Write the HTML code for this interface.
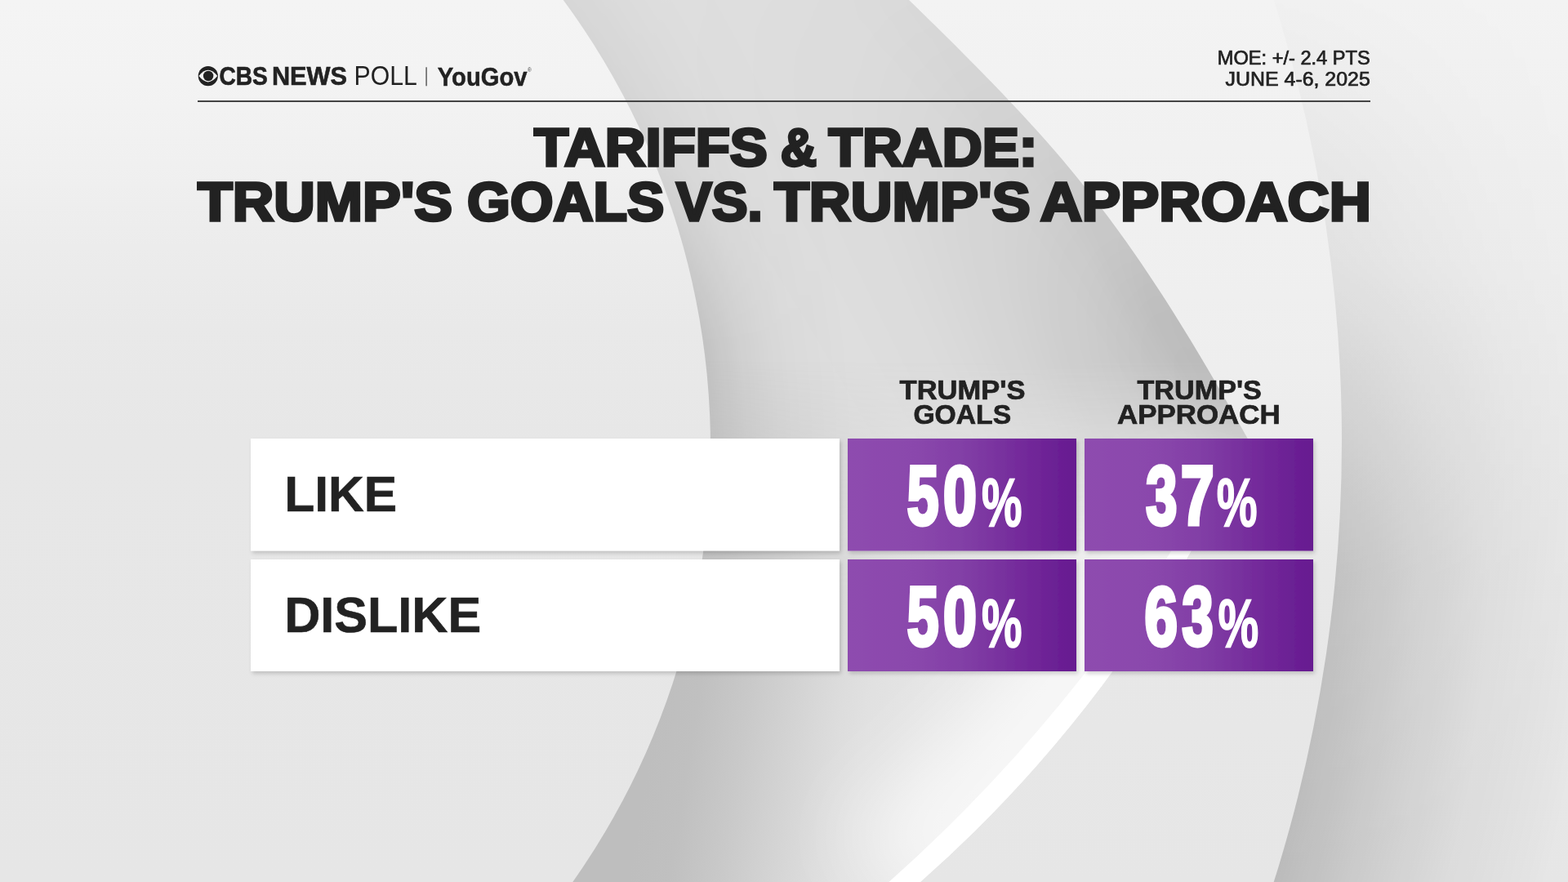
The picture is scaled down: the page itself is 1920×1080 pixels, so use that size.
<!DOCTYPE html>
<html>
<head>
<meta charset="utf-8">
<style>
html,body{margin:0;padding:0;width:1920px;height:1080px;overflow:hidden;background:#eaeaea;}
svg{position:absolute;left:0;top:0;display:block;}
text{font-family:"Liberation Sans",Arial,sans-serif;}
</style>
</head>
<body>
<svg width="1920" height="1080" viewBox="0 0 1920 1080">
<defs>
  <linearGradient id="gBase" gradientUnits="userSpaceOnUse" x1="0" y1="0" x2="0" y2="1080">
    <stop offset="0" stop-color="#f4f4f4"/>
    <stop offset="0.09" stop-color="#f3f3f3"/>
    <stop offset="0.185" stop-color="#f0f0f0"/>
    <stop offset="0.28" stop-color="#ececec"/>
    <stop offset="0.37" stop-color="#e9e9e9"/>
    <stop offset="0.5" stop-color="#e7e7e7"/>
    <stop offset="1" stop-color="#e6e6e6"/>
  </linearGradient>
  <linearGradient id="gRightBase" gradientUnits="userSpaceOnUse" x1="0" y1="0" x2="0" y2="1080">
    <stop offset="0" stop-color="#f3f3f3"/>
    <stop offset="0.5" stop-color="#ebebeb"/>
    <stop offset="1" stop-color="#e6e6e6"/>
  </linearGradient>
  <radialGradient id="gCShadow" gradientUnits="userSpaceOnUse" cx="-149" cy="540" r="2112">
    <stop offset="0.8485" stop-color="#000" stop-opacity="0.185"/>
    <stop offset="0.872" stop-color="#000" stop-opacity="0.15"/>
    <stop offset="0.8958" stop-color="#000" stop-opacity="0.11"/>
    <stop offset="0.9432" stop-color="#000" stop-opacity="0.045"/>
    <stop offset="0.99" stop-color="#000" stop-opacity="0.01"/>
    <stop offset="1" stop-color="#000" stop-opacity="0"/>
  </radialGradient>
  <linearGradient id="gVMask" gradientUnits="userSpaceOnUse" x1="0" y1="0" x2="0" y2="1080">
    <stop offset="0" stop-color="#fff" stop-opacity="0.05"/>
    <stop offset="0.3" stop-color="#fff" stop-opacity="0.28"/>
    <stop offset="0.65" stop-color="#fff" stop-opacity="0.9"/>
    <stop offset="1" stop-color="#fff" stop-opacity="1"/>
  </linearGradient>
  <mask id="mV" maskUnits="userSpaceOnUse" x="0" y="0" width="1920" height="1080">
    <rect x="0" y="0" width="1920" height="1080" fill="url(#gVMask)"/>
  </mask>
  <linearGradient id="gLens" gradientUnits="userSpaceOnUse" x1="0" y1="0" x2="0" y2="1080">
    <stop offset="0" stop-color="#f3f3f3"/>
    <stop offset="0.42" stop-color="#eeeeee"/>
    <stop offset="0.65" stop-color="#e8e8e8"/>
    <stop offset="1" stop-color="#e6e6e6"/>
  </linearGradient>
  <radialGradient id="gAShadow" gradientUnits="userSpaceOnUse" cx="-53" cy="548" r="1100">
    <stop offset="0.837" stop-color="#000" stop-opacity="0.13"/>
    <stop offset="0.855" stop-color="#000" stop-opacity="0.10"/>
    <stop offset="0.882" stop-color="#000" stop-opacity="0.06"/>
    <stop offset="0.93" stop-color="#000" stop-opacity="0.02"/>
    <stop offset="1" stop-color="#000" stop-opacity="0"/>
  </radialGradient>
  <linearGradient id="gRingBot" gradientUnits="userSpaceOnUse" x1="918.8" y1="146.9" x2="1383.2" y2="221.2">
    <stop offset="0" stop-color="#bebebe"/>
    <stop offset="0.106" stop-color="#c0c0c0"/>
    <stop offset="0.234" stop-color="#c9c9c9"/>
    <stop offset="0.413" stop-color="#d8d8d8"/>
    <stop offset="0.477" stop-color="#dddddd"/>
    <stop offset="0.549" stop-color="#e1e1e1"/>
    <stop offset="0.726" stop-color="#e6e6e6"/>
    <stop offset="1" stop-color="#eaeaea"/>
  </linearGradient>
  <linearGradient id="gBotMask" gradientUnits="userSpaceOnUse" x1="0" y1="440" x2="0" y2="720">
    <stop offset="0" stop-color="#fff" stop-opacity="0"/>
    <stop offset="1" stop-color="#fff" stop-opacity="1"/>
  </linearGradient>
  <mask id="mBot" maskUnits="userSpaceOnUse" x="0" y="0" width="1920" height="1080">
    <rect x="0" y="0" width="1920" height="1080" fill="url(#gBotMask)"/>
  </mask>
  <clipPath id="ringClip"><path d="M0,0 L1113,0 C1304,185.4 1383.5,277.2 1532,545 L1519,560 A1624.8,1624.8 0 0,1 1127,1080 L0,1080 Z"/></clipPath>
  <linearGradient id="gBShade" gradientUnits="userSpaceOnUse" x1="0" y1="0" x2="0" y2="620">
    <stop offset="0" stop-color="#000" stop-opacity="0.025"/>
    <stop offset="0.16" stop-color="#000" stop-opacity="0.035"/>
    <stop offset="0.32" stop-color="#000" stop-opacity="0.06"/>
    <stop offset="0.48" stop-color="#000" stop-opacity="0.10"/>
    <stop offset="0.61" stop-color="#000" stop-opacity="0.14"/>
    <stop offset="0.8" stop-color="#000" stop-opacity="0.17"/>
    <stop offset="1" stop-color="#000" stop-opacity="0.18"/>
  </linearGradient>
  <linearGradient id="gBShade2" gradientUnits="userSpaceOnUse" x1="0" y1="0" x2="0" y2="620">
    <stop offset="0" stop-color="#000" stop-opacity="0.01"/>
    <stop offset="0.16" stop-color="#000" stop-opacity="0.015"/>
    <stop offset="0.48" stop-color="#000" stop-opacity="0.04"/>
    <stop offset="0.61" stop-color="#000" stop-opacity="0.06"/>
    <stop offset="1" stop-color="#000" stop-opacity="0.07"/>
  </linearGradient>
  <filter id="blur120" filterUnits="userSpaceOnUse" x="500" y="-500" width="1600" height="1600"><feGaussianBlur stdDeviation="120"/></filter>
  <filter id="blur30" filterUnits="userSpaceOnUse" x="800" y="-200" width="1100" height="1100"><feGaussianBlur stdDeviation="30"/></filter>
  <linearGradient id="gAMask" gradientUnits="userSpaceOnUse" x1="0" y1="0" x2="0" y2="1080">
    <stop offset="0" stop-color="#fff" stop-opacity="0.3"/>
    <stop offset="0.19" stop-color="#fff" stop-opacity="0.4"/>
    <stop offset="0.39" stop-color="#fff" stop-opacity="1"/>
    <stop offset="0.56" stop-color="#fff" stop-opacity="1"/>
    <stop offset="0.75" stop-color="#fff" stop-opacity="0"/>
  </linearGradient>
  <mask id="mA" maskUnits="userSpaceOnUse" x="0" y="0" width="1920" height="1080">
    <rect x="0" y="0" width="1920" height="1080" fill="url(#gAMask)"/>
  </mask>
  <filter id="blur50" filterUnits="userSpaceOnUse" x="700" y="300" width="1100" height="1000"><feGaussianBlur stdDeviation="50"/></filter>
  <linearGradient id="gPurple" x1="0" y1="0" x2="1" y2="0">
    <stop offset="0" stop-color="#8e4caf"/>
    <stop offset="0.3" stop-color="#8a47ac"/>
    <stop offset="0.5" stop-color="#823fa6"/>
    <stop offset="0.75" stop-color="#742b9b"/>
    <stop offset="1" stop-color="#661a90"/>
  </linearGradient>
  <filter id="shadow" x="-5%" y="-10%" width="115%" height="130%">
    <feGaussianBlur in="SourceAlpha" stdDeviation="2.6"/>
    <feOffset dx="2" dy="3" result="b"/>
    <feComponentTransfer><feFuncA type="linear" slope="0.17"/></feComponentTransfer>
    <feMerge><feMergeNode/><feMergeNode in="SourceGraphic"/></feMerge>
  </filter>
</defs>

<!-- background layers -->
<rect x="0" y="0" width="1920" height="1080" fill="url(#gRightBase)"/>
<rect x="0" y="0" width="1920" height="1080" fill="url(#gCShadow)" mask="url(#mV)"/>
<circle cx="-149" cy="540" r="1792" fill="url(#gLens)"/>
<!-- ring (left of B) -->
<path d="M0,0 L1113,0 C1304,185.4 1383.5,277.2 1532,545 L1519,560 A1624.8,1624.8 0 0,1 1127,1080 L0,1080 Z" fill="#dfdfdf"/>
<g clip-path="url(#ringClip)">
  <path d="M1100,-40 L1113,0 C1304,185.4 1383.5,277.2 1532,545 L1560,620" fill="none" stroke="url(#gBShade)" stroke-width="300" filter="url(#blur120)"/>
  <path d="M1100,-40 L1113,0 C1304,185.4 1383.5,277.2 1532,545 L1560,620" fill="none" stroke="url(#gBShade2)" stroke-width="80" filter="url(#blur30)"/>
  <rect x="0" y="0" width="1920" height="1080" fill="url(#gAShadow)" mask="url(#mA)"/>
  <rect x="600" y="400" width="1000" height="680" fill="url(#gRingBot)" mask="url(#mBot)"/>
  <path d="M1502,560 A1947,1947 0 0,1 1088.5,1080" fill="none" stroke="#ffffff" stroke-opacity="0.65" stroke-width="160" filter="url(#blur50)" mask="url(#mBot)"/>
</g>
<!-- inside A -->
<circle cx="-53" cy="548" r="923" fill="url(#gBase)"/>
<!-- white stripe -->
<path d="M1519,560 A1624.8,1624.8 0 0,1 1127,1080 L1088.5,1080 A1947,1947 0 0,0 1502,560 Z" fill="#ffffff"/>

<!-- header -->
<g fill="#222">
  <circle cx="254.8" cy="93.1" r="12.1"/>
  <path d="M243.4,93.1 Q254.8,78.5 266.2,93.1 Q254.8,107.7 243.4,93.1 Z" fill="#f2f2f2"/>
  <circle cx="255.1" cy="93.0" r="6.2"/>
</g>
<text x="268.4" y="104.0" font-size="31.59" font-weight="bold" fill="#222" stroke="#222" stroke-width="0.6" stroke-linejoin="miter" textLength="59.44" lengthAdjust="spacingAndGlyphs">CBS</text>
<text x="332.9" y="104.0" font-size="31.59" font-weight="bold" fill="#222" stroke="#222" stroke-width="0.6" stroke-linejoin="miter" textLength="92.19" lengthAdjust="spacingAndGlyphs">NEWS</text>
<text x="433.6" y="104.3" font-size="32.32" font-weight="normal" fill="#222" textLength="77.24" lengthAdjust="spacingAndGlyphs">POLL</text>
<text x="535.8" y="104.5" font-size="31.93" font-weight="bold" fill="#222" stroke="#222" stroke-width="0.5" stroke-linejoin="miter" textLength="109.8" lengthAdjust="spacingAndGlyphs">YouGov</text>
<text x="1490.8" y="79.35" font-size="23.6" font-weight="normal" fill="#222" stroke="#222" stroke-width="0.7" stroke-linejoin="miter" textLength="186.86" lengthAdjust="spacingAndGlyphs">MOE: +/- 2.4 PTS</text>
<text x="1500.6" y="104.95" font-size="23.74" font-weight="normal" fill="#222" stroke="#222" stroke-width="0.7" stroke-linejoin="miter" textLength="177.18" lengthAdjust="spacingAndGlyphs">JUNE 4-6, 2025</text>
<rect x="521.3" y="82.3" width="1.6" height="23" fill="#666"/>
<text x="646" y="88.2" font-size="6.5" fill="#444">&#174;</text>
<rect x="242" y="123" width="1436" height="2" fill="#444"/>
<!-- title -->
<text x="654.0" y="203.3" font-size="65.37" font-weight="bold" fill="#222" stroke="#222" stroke-width="3.4" stroke-linejoin="miter" textLength="285.8" lengthAdjust="spacingAndGlyphs">TARIFFS</text>
<text x="955.7" y="203.3" font-size="65.37" font-weight="bold" fill="#222" stroke="#222" stroke-width="3.4" stroke-linejoin="miter" textLength="44.29" lengthAdjust="spacingAndGlyphs">&amp;</text>
<text x="1014.6" y="203.3" font-size="65.37" font-weight="bold" fill="#222" stroke="#222" stroke-width="3.4" stroke-linejoin="miter" textLength="255.83" lengthAdjust="spacingAndGlyphs">TRADE:</text>
<text x="242.0" y="270.2" font-size="65.95" font-weight="bold" fill="#222" stroke="#222" stroke-width="3.4" stroke-linejoin="miter" textLength="312.0" lengthAdjust="spacingAndGlyphs">TRUMP'S</text>
<text x="572.0" y="270.2" font-size="65.95" font-weight="bold" fill="#222" stroke="#222" stroke-width="3.4" stroke-linejoin="miter" textLength="241.27" lengthAdjust="spacingAndGlyphs">GOALS</text>
<text x="828.0" y="270.2" font-size="65.95" font-weight="bold" fill="#222" stroke="#222" stroke-width="3.4" stroke-linejoin="miter" textLength="105.62" lengthAdjust="spacingAndGlyphs">VS.</text>
<text x="947.9" y="270.2" font-size="65.95" font-weight="bold" fill="#222" stroke="#222" stroke-width="3.4" stroke-linejoin="miter" textLength="313.8" lengthAdjust="spacingAndGlyphs">TRUMP'S</text>
<text x="1273.7" y="270.2" font-size="65.95" font-weight="bold" fill="#222" stroke="#222" stroke-width="3.4" stroke-linejoin="miter" textLength="405.21" lengthAdjust="spacingAndGlyphs">APPROACH</text>
<!-- column headers -->
<text x="1101.6" y="488.7" font-size="32.56" font-weight="bold" fill="#222" stroke="#222" stroke-width="0.7" stroke-linejoin="miter" textLength="153.82" lengthAdjust="spacingAndGlyphs">TRUMP'S</text>
<text x="1118.4" y="519.35" font-size="32.77" font-weight="bold" fill="#222" stroke="#222" stroke-width="0.7" stroke-linejoin="miter" textLength="119.73" lengthAdjust="spacingAndGlyphs">GOALS</text>
<text x="1392.5" y="488.75" font-size="32.77" font-weight="bold" fill="#222" stroke="#222" stroke-width="0.7" stroke-linejoin="miter" textLength="152.41" lengthAdjust="spacingAndGlyphs">TRUMP'S</text>
<text x="1368.0" y="519.25" font-size="32.77" font-weight="bold" fill="#222" stroke="#222" stroke-width="0.7" stroke-linejoin="miter" textLength="199.7" lengthAdjust="spacingAndGlyphs">APPROACH</text>
<!-- rows -->
<g filter="url(#shadow)">
  <rect x="307" y="537" width="721" height="137.5" fill="#ffffff"/>
  <rect x="307" y="685" width="721" height="137" fill="#ffffff"/>
  <rect x="1038" y="537" width="280" height="137.5" fill="url(#gPurple)"/>
  <rect x="1328" y="537" width="280" height="137.5" fill="url(#gPurple)"/>
  <rect x="1038" y="685" width="280" height="137" fill="url(#gPurple)"/>
  <rect x="1328" y="685" width="280" height="137" fill="url(#gPurple)"/>
</g>
<text x="348.3" y="625.7" font-size="61.28" font-weight="bold" fill="#222" stroke="#222" stroke-width="0.6" stroke-linejoin="miter" textLength="137.89" lengthAdjust="spacingAndGlyphs">LIKE</text>
<text x="348.2" y="773.6" font-size="61.28" font-weight="bold" fill="#222" stroke="#222" stroke-width="0.6" stroke-linejoin="miter" textLength="240.93" lengthAdjust="spacingAndGlyphs">DISLIKE</text>
<text x="1110.8" y="641.9" font-size="101.23" font-weight="bold" fill="#fff" stroke="#fff" stroke-width="5.0" stroke-linejoin="miter" textLength="38.78" lengthAdjust="spacingAndGlyphs">5</text>
<text x="1155.0" y="641.9" font-size="101.23" font-weight="bold" fill="#fff" stroke="#fff" stroke-width="5.0" stroke-linejoin="miter" textLength="40.95" lengthAdjust="spacingAndGlyphs">0</text>
<text x="1403.3" y="641.9" font-size="101.23" font-weight="bold" fill="#fff" stroke="#fff" stroke-width="5.0" stroke-linejoin="miter" textLength="38.12" lengthAdjust="spacingAndGlyphs">3</text>
<text x="1446.0" y="641.9" font-size="101.23" font-weight="bold" fill="#fff" stroke="#fff" stroke-width="5.0" stroke-linejoin="miter" textLength="40.53" lengthAdjust="spacingAndGlyphs">7</text>
<text x="1110.8" y="789.6" font-size="101.67" font-weight="bold" fill="#fff" stroke="#fff" stroke-width="5.0" stroke-linejoin="miter" textLength="38.78" lengthAdjust="spacingAndGlyphs">5</text>
<text x="1155.0" y="789.6" font-size="101.67" font-weight="bold" fill="#fff" stroke="#fff" stroke-width="5.0" stroke-linejoin="miter" textLength="40.95" lengthAdjust="spacingAndGlyphs">0</text>
<text x="1401.5" y="789.6" font-size="101.67" font-weight="bold" fill="#fff" stroke="#fff" stroke-width="5.0" stroke-linejoin="miter" textLength="40.42" lengthAdjust="spacingAndGlyphs">6</text>
<text x="1447.5" y="789.6" font-size="101.67" font-weight="bold" fill="#fff" stroke="#fff" stroke-width="5.0" stroke-linejoin="miter" textLength="38.12" lengthAdjust="spacingAndGlyphs">3</text>
<text x="1202.0" y="644.0" font-size="83.52" font-weight="bold" fill="#fff" stroke="#fff" stroke-width="1.6" stroke-linejoin="miter" textLength="49.52" lengthAdjust="spacingAndGlyphs">%</text>
<text x="1489.8" y="644.0" font-size="83.52" font-weight="bold" fill="#fff" stroke="#fff" stroke-width="1.6" stroke-linejoin="miter" textLength="49.82" lengthAdjust="spacingAndGlyphs">%</text>
<text x="1202.0" y="792.0" font-size="83.52" font-weight="bold" fill="#fff" stroke="#fff" stroke-width="1.6" stroke-linejoin="miter" textLength="49.52" lengthAdjust="spacingAndGlyphs">%</text>
<text x="1491.5" y="792.0" font-size="83.52" font-weight="bold" fill="#fff" stroke="#fff" stroke-width="1.6" stroke-linejoin="miter" textLength="49.72" lengthAdjust="spacingAndGlyphs">%</text>
</svg>
</body>
</html>
